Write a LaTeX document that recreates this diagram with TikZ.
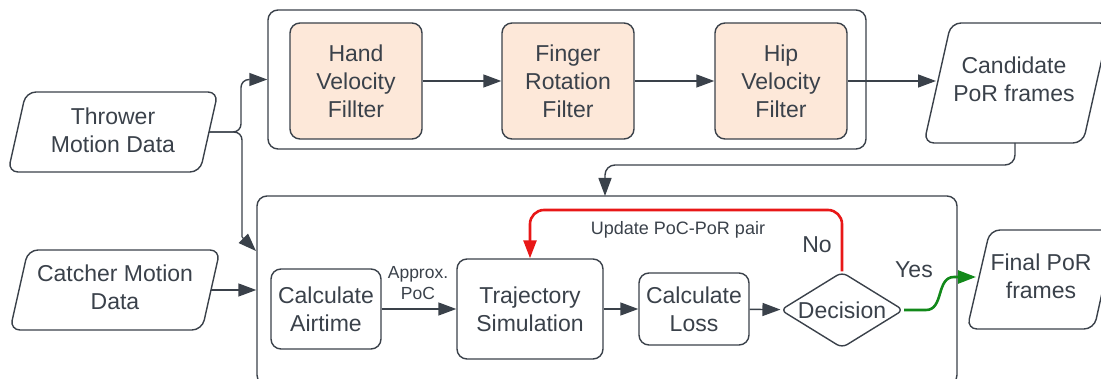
\documentclass[tikz,border=0pt]{standalone}
\usepackage{fontspec}
\setmainfont{Liberation Sans}
\usetikzlibrary{arrows.meta,shapes.geometric}
\definecolor{ink}{HTML}{3A414A}
\definecolor{peach}{HTML}{FDE8D9}
\definecolor{loopred}{HTML}{E81717}
\definecolor{okgreen}{HTML}{12891A}

\begin{document}
\begin{tikzpicture}[x=1pt,y=-1pt,
  every node/.style={text=ink, font=\fontsize{23}{28}\selectfont, align=center},
  box/.style={draw=ink, line width=1.4pt, rounded corners=10pt, inner sep=0pt},
  filt/.style={box, fill=peach, minimum width=132pt, minimum height=116pt},
  frame/.style={draw=ink, line width=1.4pt, rounded corners=10pt},
  wire/.style={draw=ink, line width=1.4pt},
  link/.style={wire, -{Triangle[length=18pt,width=13pt]}},
  small/.style={font=\fontsize{17.5}{21}\selectfont},
]
\useasboundingbox (0,0) rectangle (1101,379);
\clip (0,0) rectangle (1101,379);

% ---- containers ----
\node[frame, minimum width=598pt, minimum height=139pt] (filters) at (567,79.5) {};
\node[frame, minimum width=700pt, minimum height=189pt] (sim) at (607,290.5) {};

% ---- filter stage ----
\node[filt] (hand)   at (356,81) {Hand\\Velocity\\Fillter};
\node[filt] (finger) at (568,81) {Finger\\Rotation\\Filter};
\node[filt] (hip)    at (781,81) {Hip\\Velocity\\Filter};

% ---- input / output data (parallelograms) ----
\draw[frame] (26,92) -- (218,92) -- (200,172) -- (8,172) -- cycle;
\node (thrower) at (113,130) {Thrower\\Motion Data};
\coordinate (thrOut) at (209,132);

\draw[frame] (28,250) -- (220,250) -- (202,330) -- (10,330) -- cycle;
\node (catcher) at (115,287) {Catcher Motion\\Data};
\coordinate (catOut) at (211,290);

\draw[frame] (951,23) -- (1110,23) -- (1083,143) -- (924,143) -- cycle;
\node (cand) at (1014,79) {Candidate\\PoR frames};
\coordinate (candIn) at (936,81);
\coordinate (candOut) at (1015,143);

\draw[frame] (990,230) -- (1116,230) -- (1094,329) -- (967,329) -- cycle;
\node (final) at (1041,276) {Final PoR\\frames};
\coordinate (finIn) at (976,277);

% ---- simulation stage ----
\node[box, minimum width=110pt, minimum height=80pt]  (air)  at (326,309) {Calculate\\Airtime};
\node[box, minimum width=146pt, minimum height=100pt] (traj) at (530,309) {Trajectory\\Simulation};
\node[box, minimum width=110pt, minimum height=72pt]  (loss) at (694,309) {Calculate\\Loss};
\node[diamond, draw=ink, line width=1.4pt, rounded corners=6pt, inner sep=0pt, aspect=1.64,
      minimum width=123pt, minimum height=76pt] (dec) at (842,310) {Decision};

% ---- connectors ----
\draw[link] (hand) -- (finger);
\draw[link] (finger) -- (hip);
\draw[link] (hip.east) -- (candIn);

\draw[link, rounded corners=8pt] (thrOut) -- (241,132) |- (filters.west);
\coordinate (thrBend) at (242,237);
\coordinate (thrIn) at (256,251);
\draw[wire, rounded corners=8pt] (thrOut) -- (242,132) -- (thrBend);
\draw[link] (thrBend) -- (thrIn);

\draw[link] (catOut) -- (catOut -| sim.west);

\coordinate (simTopIn) at (605,196);
\draw[link, rounded corners=10pt] (candOut) -- (1015,165) -| (simTopIn);

\draw[link] (air) -- (traj);
\draw[link] (traj) -- (loss);
\draw[link] (loss) -- (dec);

\draw[link, draw=loopred, line width=2.6pt, rounded corners=14pt]
  (dec.north) -- (842,210) -| (traj.north);
\draw[link, draw=okgreen, line width=2.6pt]
  (dec.east) -- (926,310) .. controls (944,310) and (936,277) .. (954,277) -- (finIn);

% ---- labels ----
\node[small] (approx) at (418,283) {Approx.\\PoC};
\node[font=\fontsize{18}{22}\selectfont] (upd) at (678,230) {Update PoC-PoR pair};
\node (no)  at (817,245) {No};
\node (yes) at (914,270) {Yes};
\end{tikzpicture}
\end{document}
